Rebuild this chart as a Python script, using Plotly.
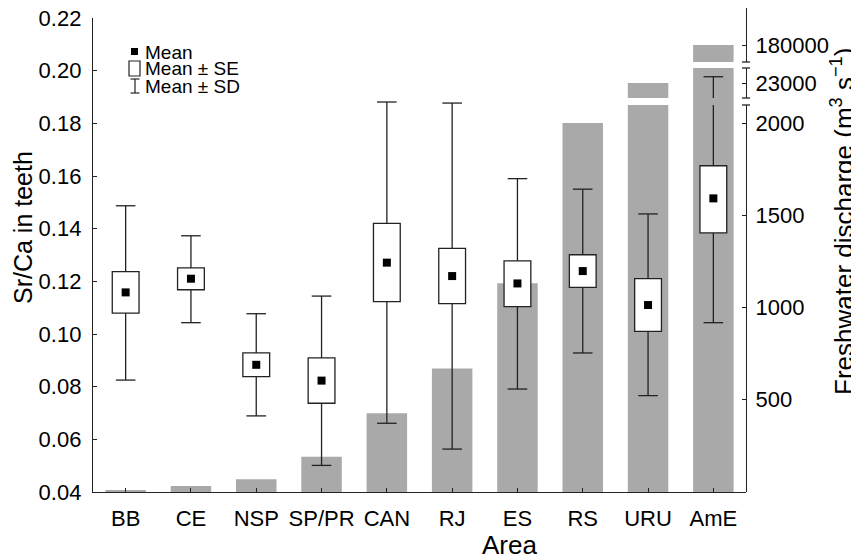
import plotly.graph_objects as go

# ---------------- data ----------------
areas = ["BB", "CE", "NSP", "SP/PR", "CAN", "RJ", "ES", "RS", "URU", "AmE"]
sr_mean = [0.1158, 0.1210, 0.0883, 0.0823, 0.1271, 0.1220, 0.1192, 0.1239, 0.1110, 0.1515]
se_low  = [0.1079, 0.1168, 0.0838, 0.0737, 0.1123, 0.1115, 0.1104, 0.1177, 0.1010, 0.1384]
se_high = [0.1237, 0.1251, 0.0928, 0.0909, 0.1420, 0.1325, 0.1278, 0.1301, 0.1210, 0.1639]
sd_low  = [0.0825, 0.1043, 0.0689, 0.0501, 0.0661, 0.0563, 0.0791, 0.0928, 0.0766, 0.1043]
sd_high = [0.1487, 0.1373, 0.1077, 0.1144, 0.1881, 0.1877, 0.1590, 0.1550, 0.1456, 0.1977]
discharge = [10, 32, 69, 191, 427, 670, 1131, 2000, 23000, 180000]

left_ticks = [0.04, 0.06, 0.08, 0.10, 0.12, 0.14, 0.16, 0.18, 0.20, 0.22]
seg1_ticks = [500, 1000, 1500, 2000]
seg2_ticks = [23000]
seg3_ticks = [180000]

# ---------------- geometry (page pixels; page body has an 8px margin) ----------------
O = 8
W, H = 859 - O, 560 - O
PL, PR, PT, PB = 93, 746, 8, 492
PW, PHt = PR - PL, PB - PT

def fy(py):
    return (PB - py) / PHt

def fx(px):
    return (px - PL) / PW

FONT = "Liberation Sans, Arial, Helvetica, sans-serif"
AX = "#222222"
BARC = "#a9a9a9"
LW = 1.3

s1 = (PB - 123) / 2000.0
seg1_range = [0, (PB - 105) / s1]
seg2_range = [20000, 26000]
gap_range = [26000, 30000]      # filler strip between the lower two segments
u3 = 500.0
seg3_range = [180000 - (62 - 45) * u3, 180000 + (45 - PT) * u3]

fig = go.Figure()
for ax in ["y", "y2", "y3", "y5"]:
    fig.add_trace(go.Bar(x=areas, y=discharge, xaxis="x", yaxis=ax, width=0.62,
                         marker=dict(color=BARC, line=dict(width=0)),
                         hoverinfo="skip", showlegend=False))

se_span = [h - l for h, l in zip(se_high, se_low)]
fig.add_trace(go.Bar(x=areas, y=se_span, base=se_low, xaxis="x", yaxis="y4", width=0.41,
                     marker=dict(color="white", line=dict(color=AX, width=LW)),
                     hoverinfo="skip", showlegend=False))

wx, wy = [], []
for a, lo, hi, slo, shi in zip(areas, se_low, se_high, sd_low, sd_high):
    wx += [a, a, None, a, a, None]
    wy += [hi, shi, None, lo, slo, None]
fig.add_trace(go.Scatter(x=wx, y=wy, mode="lines", xaxis="x", yaxis="y4",
                         line=dict(color=AX, width=LW), connectgaps=False,
                         hoverinfo="skip", showlegend=False))
fig.add_trace(go.Scatter(x=areas + areas, y=sd_high + sd_low, mode="markers", xaxis="x", yaxis="y4",
                         marker=dict(symbol="line-ew", size=14, line=dict(color=AX, width=LW)),
                         hoverinfo="skip", showlegend=False))
fig.add_trace(go.Scatter(x=areas, y=sr_mean, mode="markers", xaxis="x", yaxis="y4",
                         marker=dict(symbol="square", size=8, color="black"),
                         showlegend=False, hoverinfo="skip"))

tickfont = dict(family=FONT, size=22, color="black")
common_r = dict(side="right", anchor="x", showline=True, linecolor=AX, linewidth=LW,
                ticks="inside", ticklen=4, tickcolor=AX, showgrid=False, zeroline=False,
                tickfont=tickfont, ticklabelstandoff=4, tickformat="d", automargin=False,
                ticklabeloverflow="allow")

fig.update_layout(
    template="none",
    width=W, height=H,
    margin=dict(l=PL - O, r=(W + O) - PR, t=PT - O, b=(H + O) - PB, pad=0),
    paper_bgcolor="white", plot_bgcolor="rgba(0,0,0,0)",
    barmode="overlay", showlegend=False,
    font=dict(family=FONT, color="black"),
    xaxis=dict(domain=[0, 1], range=[-0.5, 9.5], anchor="y4", showline=True,
               linecolor=AX, linewidth=LW, ticks="inside", ticklen=4, tickcolor=AX,
               showgrid=False, zeroline=False, tickfont=tickfont, ticklabelstandoff=6,
               automargin=False),
    yaxis=dict(domain=[0, fy(105)], range=seg1_range, tickvals=seg1_ticks, **common_r),
    yaxis2=dict(domain=[fy(98), fy(68)], range=seg2_range, tickvals=seg2_ticks, **common_r),
    yaxis3=dict(domain=[fy(62), 1], range=seg3_range, tickvals=seg3_ticks, **common_r),
    yaxis5=dict(domain=[fy(105), fy(98)], range=gap_range, anchor="x", visible=False),
    yaxis4=dict(domain=[0, fy(18)], range=[0.04, 0.22], tickvals=left_ticks, tickformat=".2f",
                side="left", anchor="x", showline=True, linecolor=AX, linewidth=LW,
                ticks="inside", ticklen=4, tickcolor=AX, showgrid=False, zeroline=False,
                tickfont=tickfont, ticklabelstandoff=6, automargin=False,
                ticklabeloverflow="allow"),
)

cw = 4.0 / PW
caps = [("y domain", 1), ("y2 domain", 0), ("y2 domain", 1), ("y3 domain", 0)]
for yr, yv in caps:
    fig.add_shape(type="line", xref="paper", yref=yr, x0=1 - cw, x1=1 + cw, y0=yv, y1=yv,
                  line=dict(color=AX, width=LW))

# legend (drawn manually)
fig.add_shape(type="rect", xref="paper", yref="paper", x0=fx(131), x1=fx(138), y0=fy(55), y1=fy(48),
              fillcolor="black", line=dict(width=0))
fig.add_shape(type="rect", xref="paper", yref="paper", x0=fx(129), x1=fx(140), y0=fy(76), y1=fy(61),
              fillcolor="white", line=dict(color=AX, width=1.2))
fig.add_shape(type="line", xref="paper", yref="paper", x0=fx(135), x1=fx(135), y0=fy(93), y1=fy(79),
              line=dict(color=AX, width=1.2))
for yy in (79, 93):
    fig.add_shape(type="line", xref="paper", yref="paper", x0=fx(130.5), x1=fx(139.5), y0=fy(yy), y1=fy(yy),
                  line=dict(color=AX, width=1.2))
for txt, yy in (("Mean", 52), ("Mean ± SE", 69), ("Mean ± SD", 86)):
    fig.add_annotation(text=txt, xref="paper", yref="paper", x=fx(143), y=fy(yy),
                       xanchor="left", yanchor="middle", showarrow=False,
                       font=dict(family=FONT, size=19, color="black"))

# axis titles
fig.add_annotation(text="Sr/Ca in teeth", xref="paper", yref="paper", x=fx(23), y=fy(228),
                   textangle=-90, showarrow=False, xanchor="center", yanchor="middle",
                   font=dict(family=FONT, size=25, color="black"))
fig.add_annotation(text="Freshwater discharge (m<sup>3</sup> s<sup>−1</sup>)", xref="paper", yref="paper",
                   x=fx(842), y=fy(222), textangle=-90, showarrow=False,
                   xanchor="center", yanchor="middle",
                   font=dict(family=FONT, size=26, color="black"))
fig.add_annotation(text="Area", xref="paper", yref="paper", x=fx(509), y=fy(545),
                   showarrow=False, xanchor="center", yanchor="middle",
                   font=dict(family=FONT, size=26, color="black"))

fig.write_html("out.html")
